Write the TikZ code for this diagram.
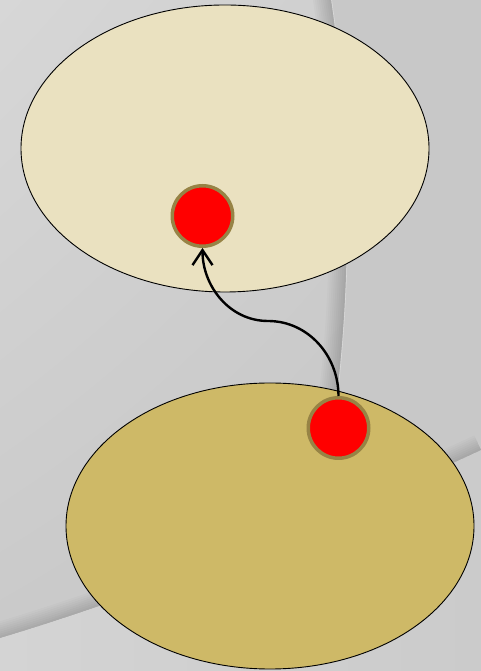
\documentclass[tikz,border=0pt]{standalone}
\usetikzlibrary{shapes.geometric,arrows.meta,shadings}
\definecolor{topfill}{HTML}{EAE1C0}
\definecolor{botfill}{HTML}{CEB967}
\definecolor{dotborder}{HTML}{978345}
\definecolor{dotred}{HTML}{FF0000}
\definecolor{bgA}{HTML}{D7D7D7}
\definecolor{bgB}{HTML}{CCCCCC}
\definecolor{bgC}{HTML}{C9C9C9}
\definecolor{bgD}{HTML}{C4C4C4}
\definecolor{bgR}{HTML}{C8C8C8}
\definecolor{lowL}{HTML}{D4D4D4}
\definecolor{lowR}{HTML}{CBCBCB}
\tikzset{
  region/.style={ellipse, draw=black, line width=0.9pt, inner sep=0pt},
  dot/.style={circle, fill=dotred, draw=dotborder, line width=3.5pt, minimum size=60.5pt, inner sep=0pt},
  link/.style={line width=2.4pt, -{Straight Barb[length=15pt,width=20pt]}},
  shadowline/.style={black, opacity=0.02}
}
\begin{document}
\begin{tikzpicture}[x=1pt,y=1pt]
\useasboundingbox (0,0) rectangle (481,671);
\begin{scope}
\clip (0,0) rectangle (481,671);
% base background
\shade[upper left=bgA, upper right=bgB, lower left=bgC, lower right=bgD] (0,0) rectangle (481,671);
% area right of the large arc
\fill[bgR, even odd rule] (-1200,-1000) rectangle (800,1700) (-1165,451) circle[radius=1512];
% shadow inside the large arc
\begin{scope}
\clip (-1165,451) circle[radius=1512];
\foreach \w in {4,8,...,36} \draw[shadowline, line width=\w pt] (-1165,451) circle[radius=1512];
\end{scope}
\draw[white, opacity=0.3, line width=0.8pt] (-1165,451) circle[radius=1512.4];
% lower sheet
\shade[left color=lowL, right color=lowR] (0,33) .. controls (160,81) and (330,151) .. (481,221) -- (481,0) -- (0,0) -- cycle;
\begin{scope}
\clip (0,33) .. controls (160,81) and (330,151) .. (481,221) -- (481,671) -- (0,671) -- cycle;
\foreach \w in {4,8,...,32} \draw[shadowline, line width=\w pt] (0,33) .. controls (160,81) and (330,151) .. (481,221);
\end{scope}
\end{scope}
% regions
\node[region, fill=topfill, minimum width=408pt, minimum height=287pt] (upper) at (225,522.5) {};
\node[region, fill=botfill, minimum width=408pt, minimum height=286pt] (lower) at (270,145) {};
% dots
\node[dot] (target) at (202.5,455) {};
\node[dot] (source) at (338.5,243) {};
\coordinate (bend) at (268,350);
\draw[link] (source.north) to[out=90,in=0] (bend) to[out=180,in=-90] (target.south);
\end{tikzpicture}
\end{document}
